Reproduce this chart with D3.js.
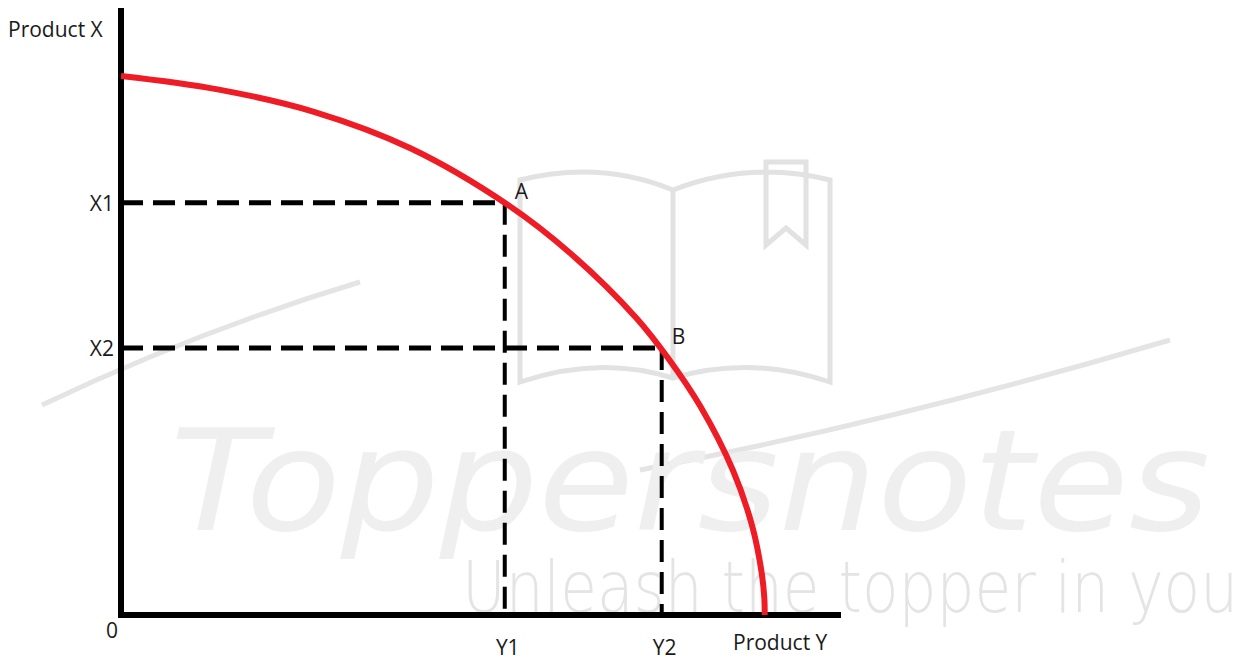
<!DOCTYPE html>
<html>
<head>
<meta charset="utf-8">
<script src="https://cdn.jsdelivr.net/npm/d3@7"></script>
<style>
  body { margin: 0; background: #fff; }
  text { font-family: "Open Sans", "Noto Sans", sans-serif; fill: #1a1a1a; }
</style>
</head>
<body>
<svg id="chart" width="1245" height="661"></svg>
<script>
// frontier (Product Y, Product X)
let frontierY = [0, 1.34, 2.68, 4.02, 5.37, 6.26, 7.16, 7.60, 8.05, 8.50, 8.77, 8.90, 8.935, 8.94]
let frontierX = [8.88, 8.66, 8.29, 7.69, 6.76, 5.94, 4.89, 4.23, 3.43, 2.38, 1.45, 0.68, 0.28, 0]

let pointNames = ['A', 'B']
let pointY = [5.33, 7.51]
let pointX = [6.79, 4.40]
let xTickLabels = ['X1', 'X2']
let yTickLabels = ['Y1', 'Y2']

let frontier = frontierY.map((v, i) => ({ y: v, x: frontierX[i] }))
let points = pointNames.map((n, i) => ({ name: n, y: pointY[i], x: pointX[i] }))

let margin = { top: 8, left: 121 }
let width = 720, height = 607

let svg = d3.select('#chart')

// horizontal = Product Y, vertical = Product X
let sx = d3.scaleLinear().domain([0, 10]).range([margin.left, margin.left + width])
let sy = d3.scaleLinear().domain([0, 10]).range([margin.top + height, margin.top])

// watermark
let wm = svg.append('g').attr('class', 'watermark')
wm.append('path')
    .attr('d', 'M520,382 L520,180 Q600,160 673,190 Q750,160 830,180 L830,382 Q750,355 673,378 Q600,355 520,382 Z M673,190 L673,378 M766,162 L766,245 L786,228 L806,245 L806,162 Z')
    .attr('fill', 'none')
    .attr('stroke', '#e2e2e2')
    .attr('stroke-width', 5)
wm.append('path')
    .attr('d', 'M42,405 Q200,330 360,282 M1170,340 Q900,420 640,470')
    .attr('fill', 'none')
    .attr('stroke', '#e4e4e4')
    .attr('stroke-width', 5)
wm.append('text')
    .attr('x', 170).attr('y', 530)
    .attr('textLength', 1040)
    .attr('lengthAdjust', 'spacingAndGlyphs')
    .style('font-family', '"DejaVu Sans", sans-serif')
    .style('font-weight', 200)
    .style('font-style', 'italic')
    .style('font-size', '140px')
    .style('fill', '#efefef')
    .text('Toppersnotes')
wm.append('text')
    .attr('x', 462).attr('y', 612)
    .attr('textLength', 776)
    .attr('lengthAdjust', 'spacingAndGlyphs')
    .style('font-family', '"DejaVu Sans", sans-serif')
    .style('font-weight', 200)
    .style('font-size', '72px')
    .style('fill', '#e4e4e4')
    .text('Unleash the topper in you')

// dashed guides
let guides = svg.append('g').attr('stroke', '#000').attr('stroke-dasharray', '22,10')
guides.selectAll('.hguide')
    .data(points)
    .enter()
    .append('line')
    .attr('x1', sx(0)).attr('x2', d => sx(d.y))
    .attr('y1', d => sy(d.x)).attr('y2', d => sy(d.x))
    .attr('stroke-width', 5)
guides.selectAll('.vguide')
    .data(points)
    .enter()
    .append('line')
    .attr('x1', d => sx(d.y)).attr('x2', d => sx(d.y))
    .attr('y1', d => sy(d.x)).attr('y2', sy(0))
    .attr('stroke-width', 4)

// axes
svg.append('line')
    .attr('x1', sx(0)).attr('x2', sx(0))
    .attr('y1', sy(10)).attr('y2', sy(0) + 3)
    .attr('stroke', '#000').attr('stroke-width', 6)
svg.append('line')
    .attr('x1', sx(0) - 3).attr('x2', sx(10))
    .attr('y1', sy(0)).attr('y2', sy(0))
    .attr('stroke', '#000').attr('stroke-width', 6)

// frontier curve
let line = d3.line()
    .x(d => sx(d.y))
    .y(d => sy(d.x))
    .curve(d3.curveCatmullRom)

svg.append('path')
    .datum(frontier)
    .attr('d', line)
    .attr('fill', 'none')
    .attr('stroke', '#ee1c25')
    .attr('stroke-width', 6)

// labels
let fs = '21px'
svg.append('text').attr('x', 8).attr('y', 37).style('font-size', fs).text('Product X')
svg.append('text').attr('x', 733).attr('y', 650).style('font-size', fs).text('Product Y')
svg.append('text').attr('x', 112).attr('y', 638).attr('text-anchor', 'middle').style('font-size', fs).text('0')

svg.selectAll('.xlab')
    .data(points)
    .enter()
    .append('text')
    .attr('x', 114)
    .attr('y', d => sy(d.x) + 8)
    .attr('text-anchor', 'end')
    .style('font-size', fs)
    .text((d, i) => xTickLabels[i])

svg.selectAll('.ylab')
    .data(points)
    .enter()
    .append('text')
    .attr('x', d => sx(d.y) + 3)
    .attr('y', 655)
    .attr('text-anchor', 'middle')
    .style('font-size', fs)
    .text((d, i) => yTickLabels[i])

svg.selectAll('.plab')
    .data(points)
    .enter()
    .append('text')
    .attr('x', d => sx(d.y) + 10)
    .attr('y', d => sy(d.x) - 4)
    .style('font-size', '21px')
    .text(d => d.name)
</script>
</body>
</html>
